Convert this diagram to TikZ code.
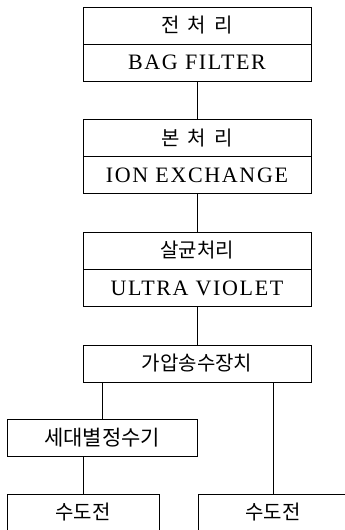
\documentclass[tikz,border=0pt]{standalone}
\usepackage{fontspec}
\setmainfont[LetterSpace=7.5]{Liberation Serif}
\newfontfamily\kr{Noto Sans CJK KR}
\begin{document}
\begin{tikzpicture}[x=1pt,y=-1pt,
  box/.style={draw, line width=1pt, inner sep=0pt, minimum width=228pt, minimum height=37pt},
  kt/.style={font=\kr\fontsize{20}{24}\selectfont},
  et/.style={font=\fontsize{22}{26}\selectfont},
  conn/.style={line width=1pt}]
\useasboundingbox (0,0) rectangle (345,530);
\clip (0,0) rectangle (345,530);
% box 1
\node[box,kt] (k1) at (197,25.5) {전\hspace{8pt}처\hspace{8pt}리};
\node[box,et] (e1) at (197,62.5) {BAG FILTER};
% box 2
\node[box,kt] (k2) at (197,138) {본\hspace{8pt}처\hspace{8pt}리};
\node[box,et] (e2) at (197,175) {ION EXCHANGE};
% box 3
\node[box,kt] (k3) at (197,250.5) {살균처리};
\node[box,et] (e3) at (197,288) {ULTRA VIOLET};
% box 4
\node[box,kt] (p) at (197,363.5) {가압송수장치};
% household purifier
\node[box,minimum width=190pt,font=\kr\fontsize{21}{24}\selectfont] (s) at (102,437.5) {세대별정수기};
% taps
\node[box,kt,minimum width=152pt] (t1) at (83,512.5) {\raisebox{3pt}{수도전}};
\node[box,kt,minimum width=150pt] (t2) at (273,512.5) {\raisebox{3pt}{수도전}};
% connectors
\draw[conn] (e1.south) -- (k2.north);
\draw[conn] (e2.south) -- (k3.north);
\draw[conn] (e3.south) -- (p.north);
\draw[conn] (s.north |- p.south) -- (s.north);
\draw[conn] (t2.north |- p.south) -- (t2.north);
\draw[conn] (s.south -| t1.north) -- (t1.north);
\end{tikzpicture}
\end{document}
